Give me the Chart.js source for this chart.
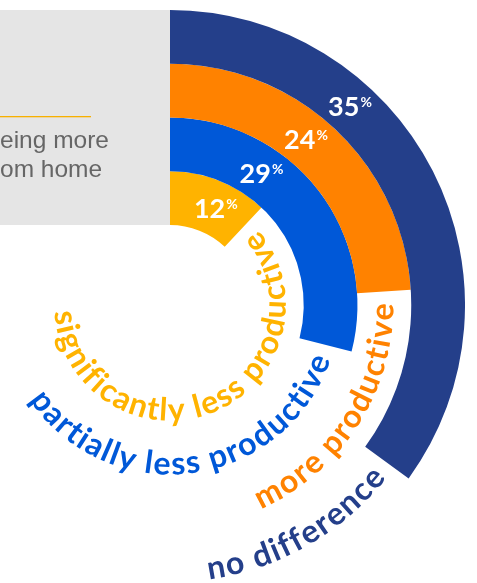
<!DOCTYPE html>
<html>
<head>
<meta charset="utf-8">
<script src="https://cdn.jsdelivr.net/npm/chart.js@4.4.1/dist/chart.umd.min.js"></script>
<style>
  html, body { margin: 0; padding: 0; background: #fff; width: 477px; height: 583px; overflow: hidden; }
  #wrap { position: absolute; left: -125px; top: 10px; width: 590px; height: 590px; }
</style>
</head>
<body>
<div id="wrap"><canvas id="chart" width="590" height="590"></canvas></div>
<script>
// rings, outermost first
const categories = ['no difference', 'more productive', 'partially less productive', 'significantly less productive'];
const shares = [35, 24, 29, 12];
const colors = ['#243f8a', '#ff8200', '#0058d8', '#ffb300'];
const introLines = ['being more', 'from home'];
const introCut = ['b', 'fr'];   // part of each line hidden past the left edge

const OFF_X = 125;   // canvas starts this far left of the page

// grey intro panel on the left
const panelPlugin = {
  id: 'panel',
  beforeDraw(chart) {
    const ctx = chart.ctx;
    ctx.save();
    ctx.beginPath();
    ctx.rect(OFF_X, 0, 170, 215);
    ctx.clip();
    ctx.fillStyle = '#e5e5e5';
    ctx.fillRect(OFF_X, 0, 170, 215);
    ctx.fillStyle = '#f7b000';
    ctx.fillRect(OFF_X, 106, 91, 1.3);
    ctx.font = '24.5px "Liberation Sans", Arial, sans-serif';
    ctx.fillStyle = '#666';
    ctx.textBaseline = 'alphabetic';
    introLines.forEach((t, i) => {
      const cut = ctx.measureText(introCut[i]).width;
      ctx.fillText(t, OFF_X - cut, 138 + i * 29);
    });
    ctx.restore();
  }
};

const ringLabels = {
  id: 'ringLabels',
  afterDatasetsDraw(chart) {
    const ctx = chart.ctx;
    ctx.save();
    chart.data.datasets.forEach((ds, i) => {
      const arc = chart.getDatasetMeta(i).data[0];
      const p = arc.getProps(['x', 'y', 'startAngle', 'endAngle', 'innerRadius', 'outerRadius'], true);
      const mid = (p.innerRadius + p.outerRadius) / 2;

      // value label, horizontal, a bit along the ring from its start
      const a = p.startAngle + (0.93 * mid - 52) / mid;
      const lx = p.x + Math.cos(a) * mid;
      const ly = p.y + Math.sin(a) * mid;
      const num = String(shares[i]);
      ctx.fillStyle = '#fff';
      ctx.textAlign = 'left';
      ctx.textBaseline = 'alphabetic';
      ctx.font = '700 27px Lato, sans-serif';
      const wn = ctx.measureText(num).width;
      ctx.font = '700 14px Lato, sans-serif';
      const wp = ctx.measureText('%').width;
      const x0 = lx - (wn + wp + 1) / 2;
      ctx.font = '700 27px Lato, sans-serif';
      ctx.fillText(num, x0, ly + 10);
      ctx.font = '700 14px Lato, sans-serif';
      ctx.fillText('%', x0 + wn + 1, ly + 1);

      // category name, curved along the ring past its end
      ctx.fillStyle = colors[i];
      ctx.font = '700 32px Lato, sans-serif';
      ctx.textAlign = 'center';
      const rb = mid + 9;
      const ls = 1.6;
      const chars = categories[i].split('');
      const widths = chars.map(c => ctx.measureText(c).width + ls);
      const total = widths.reduce((s, w) => s + w, 0);
      let phi = p.endAngle + 12 / rb + total / rb;
      chars.forEach((c, k) => {
        const pc = phi - (widths[k] / 2) / rb;
        ctx.save();
        ctx.translate(p.x + Math.cos(pc) * rb, p.y + Math.sin(pc) * rb);
        ctx.rotate(pc - Math.PI / 2);
        ctx.fillText(c, 0, 0);
        ctx.restore();
        phi -= widths[k] / rb;
      });
    });
    ctx.restore();
  }
};

new Chart(document.getElementById('chart'), {
  type: 'doughnut',
  data: {
    labels: ['share', 'rest'],
    datasets: categories.map((c, i) => ({
      label: c,
      data: [shares[i], 100 - shares[i]],
      backgroundColor: [colors[i], 'rgba(0,0,0,0)'],
      borderWidth: 0,
      hoverOffset: 0
    }))
  },
  options: {
    responsive: false,
    animation: false,
    events: [],
    rotation: 0,
    circumference: 360,
    cutout: '27.1%',
    layout: { padding: 0 },
    plugins: {
      legend: { display: false },
      tooltip: { enabled: false }
    }
  },
  plugins: [panelPlugin, ringLabels]
});
</script>
</body>
</html>
